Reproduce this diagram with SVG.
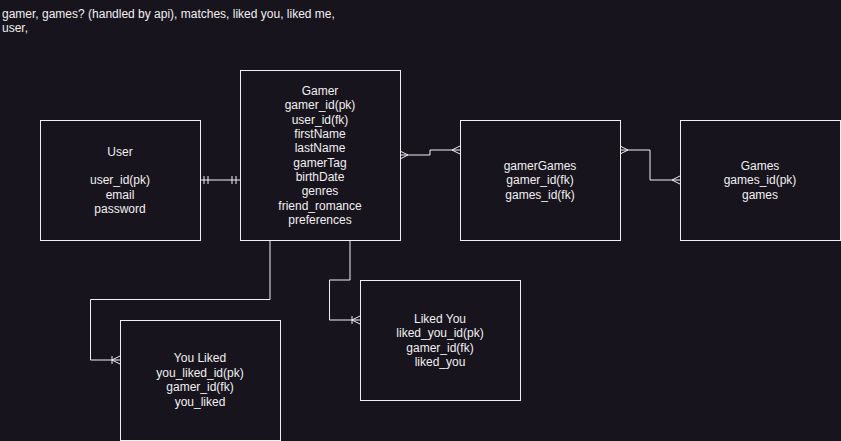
<svg xmlns="http://www.w3.org/2000/svg" width="841" height="441" viewBox="0 0 841 441">
<style>
.bg{fill:#18141d}
.box{fill:#18141d;stroke:#f0f0f0;stroke-width:1}
.t{font-family:"Liberation Sans",Arial,Helvetica,sans-serif;font-size:12px;fill:#f0f0f0;text-anchor:middle}
.tl{font-family:"Liberation Sans",Arial,Helvetica,sans-serif;font-size:12px;fill:#f0f0f0}
.edge{fill:none;stroke:#f0f0f0;stroke-width:1}
.m{fill:none;stroke:#f0f0f0;stroke-width:1}
</style>
<defs>
<marker id="many" markerUnits="userSpaceOnUse" viewBox="-12 -6 14 12" refX="0" refY="0" markerWidth="14" markerHeight="12" orient="auto-start-reverse" overflow="visible">
<path class="m" d="M-8,0 L0,-4 M-8,0 L0,4"/>
</marker>
<marker id="mandOne" markerUnits="userSpaceOnUse" viewBox="-12 -6 14 12" refX="0" refY="0" markerWidth="14" markerHeight="12" orient="auto-start-reverse" overflow="visible">
<path class="m" d="M-4,-4 V4 M-8,-4 V4"/>
</marker>
<marker id="oneMany" markerUnits="userSpaceOnUse" viewBox="-12 -6 14 12" refX="0" refY="0" markerWidth="14" markerHeight="12" orient="auto-start-reverse" overflow="visible">
<path class="m" d="M-8,0 L0,-4 M-8,0 L0,4 M-8,-4 V4"/>
</marker>
</defs>
<rect class="bg" x="0" y="0" width="841" height="441"/>
<text class="tl" x="2" y="18">gamer, games? (handled by api), matches, liked you, liked me,</text>
<text class="tl" x="2" y="32">user,</text>
<g id="connectors">
<path class="edge" d="M200,180 H240" marker-start="url(#mandOne)" marker-end="url(#mandOne)"/>
<path class="edge" d="M400,155 H430 V150 H460" marker-start="url(#many)" marker-end="url(#many)"/>
<path class="edge" d="M620,150 H650 V180 H680" marker-start="url(#many)" marker-end="url(#many)"/>
<path class="edge" d="M270,240 V299.5 H90.5 V360 H120" marker-end="url(#oneMany)"/>
<path class="edge" d="M350,240 V280 H329.5 V320 H360" marker-end="url(#oneMany)"/>
</g>
<g id="user">
<rect class="box" x="40.5" y="120.5" width="160" height="120"/>
<text class="t" x="120" y="156">User</text>
<text class="t" x="120" y="184">user_id(pk)</text>
<text class="t" x="120" y="199">email</text>
<text class="t" x="120" y="213">password</text>
</g>
<g id="gamer">
<rect class="box" x="240.5" y="70.5" width="160" height="170"/>
<text class="t" x="320" y="95">Gamer</text>
<text class="t" x="320" y="109">gamer_id(pk)</text>
<text class="t" x="320" y="123.5">user_id(fk)</text>
<text class="t" x="320" y="138">firstName</text>
<text class="t" x="320" y="152">lastName</text>
<text class="t" x="320" y="166.5">gamerTag</text>
<text class="t" x="320" y="181">birthDate</text>
<text class="t" x="320" y="195">genres</text>
<text class="t" x="320" y="209.5">friend_romance</text>
<text class="t" x="320" y="224">preferences</text>
</g>
<g id="gamerGames">
<rect class="box" x="460.5" y="120.5" width="160" height="120"/>
<text class="t" x="540" y="170">gamerGames</text>
<text class="t" x="540" y="184">gamer_id(fk)</text>
<text class="t" x="540" y="199">games_id(fk)</text>
</g>
<g id="games">
<rect class="box" x="680.5" y="120.5" width="160" height="120"/>
<text class="t" x="760" y="170">Games</text>
<text class="t" x="760" y="184">games_id(pk)</text>
<text class="t" x="760" y="199">games</text>
</g>
<g id="likedYou">
<rect class="box" x="360.5" y="280.5" width="160" height="120"/>
<text class="t" x="440" y="323">Liked You</text>
<text class="t" x="440" y="337">liked_you_id(pk)</text>
<text class="t" x="440" y="351.5">gamer_id(fk)</text>
<text class="t" x="440" y="366">liked_you</text>
</g>
<g id="youLiked">
<rect class="box" x="120.5" y="320.5" width="160" height="120"/>
<text class="t" x="200" y="362">You Liked</text>
<text class="t" x="200" y="377">you_liked_id(pk)</text>
<text class="t" x="200" y="391">gamer_id(fk)</text>
<text class="t" x="200" y="406">you_liked</text>
</g>
</svg>
